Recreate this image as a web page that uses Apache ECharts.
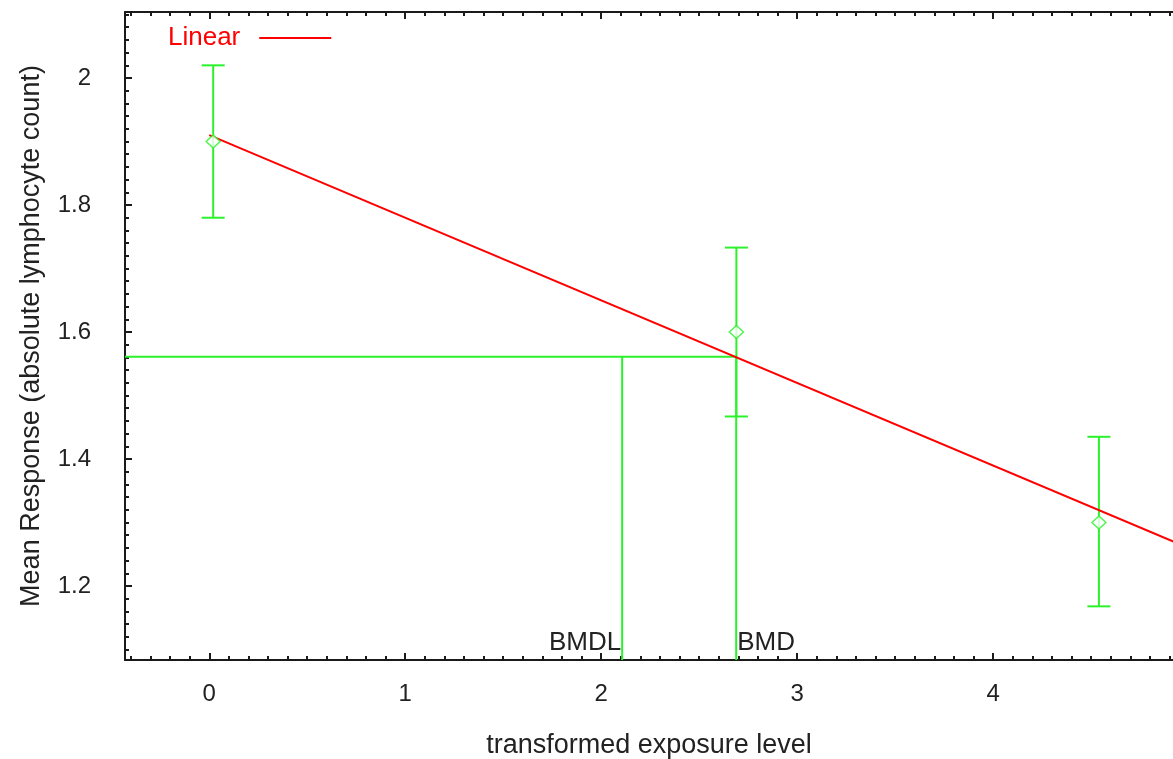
<!DOCTYPE html>
<html><head><meta charset="utf-8">
<script src="https://cdn.jsdelivr.net/npm/echarts@6/dist/echarts.min.js"></script>
<style>html,body{margin:0;padding:0;background:#fff}#c{width:1173px;height:759px}</style>
</head><body><div id="c"></div>
<script>
// ---- data ----
const doses = [0.02, 2.69, 4.54];
const means = [1.90, 1.60, 1.30];
const upper = [2.02, 1.733, 1.435];
const lower = [1.78, 1.467, 1.168];
const fitX = [0, 4.92];
const fitY = [1.910, 1.270];
const bmr = 1.561;
const bmd = 2.689;
const bmdl = 2.107;
const xTicks = [0, 1, 2, 3, 4];
const yTicks = [1.2, 1.4, 1.6, 1.8, 2.0];
const xMin = -0.43, xMax = 4.918, yMin = 1.0835, yMax = 2.104;

const xMinor = [], yMinor = [];
for (let i = -4; i <= 49; i++) { if (i % 10 !== 0) xMinor.push(i / 10); }
for (let i = 55; i <= 105; i++) { if (i % 10 !== 0) yMinor.push(i / 50); }

const FONT = '"Liberation Sans", Arial, sans-serif';
const GREEN = '#2bf22b';
const AX = '#1a1a1a';

function xAx(pos, ticks, len, showLine, labels, extra) {
  return Object.assign({
    type: 'value', position: pos, min: xMin, max: xMax, gridIndex: 0,
    axisLine: { show: showLine, onZero: false, lineStyle: { color: AX, width: 2 } },
    axisTick: { show: true, inside: true, customValues: ticks, length: len, lineStyle: { color: AX, width: 2 } },
    axisLabel: labels ? { show: true, customValues: xTicks, color: '#222', fontSize: 24, fontFamily: FONT, margin: 22 } : { show: false },
    splitLine: { show: false }, minorTick: { show: false }
  }, extra || {});
}
function yAx(pos, ticks, len, showLine, labels, extra) {
  return Object.assign({
    type: 'value', position: pos, min: yMin, max: yMax, gridIndex: 0,
    axisLine: { show: showLine, onZero: false, lineStyle: { color: AX, width: 2 } },
    axisTick: { show: true, inside: true, customValues: ticks, length: len, lineStyle: { color: AX, width: 2 } },
    axisLabel: labels ? { show: true, customValues: yTicks, color: '#222', fontSize: 24, fontFamily: FONT, margin: 34, formatter: v => String(+v.toFixed(2)) } : { show: false },
    splitLine: { show: false }, minorTick: { show: false }
  }, extra || {});
}

const chart = echarts.init(document.getElementById('c'));
chart.setOption({
  animation: false,
  backgroundColor: '#fff',
  grid: { left: 125, right: 0, top: 12, bottom: 99, containLabel: false, outerBoundsMode: 'none' },
  legend: {
    data: [{ name: 'Linear', icon: 'rect', itemStyle: { color: 'red' } }],
    left: 163, top: 20, align: 'right',
    itemWidth: 72, itemHeight: 2,
    textStyle: { color: 'red', fontSize: 26, fontFamily: FONT, padding: [0, 14, 0, 0] }
  },
  xAxis: [
    xAx('bottom', xTicks, 7, true, true, {
      name: 'transformed exposure level', nameLocation: 'middle', nameGap: 72,
      nameTextStyle: { color: '#222', fontSize: 27, fontFamily: FONT }
    }),
    xAx('bottom', xMinor, 4, false, false),
    xAx('top', xTicks, 7, true, false),
    xAx('top', xMinor, 4, false, false)
  ],
  yAxis: [
    yAx('left', yTicks, 7, true, true, {
      name: 'Mean Response (absolute lymphocyte count)', nameLocation: 'middle', nameGap: 80,
      nameTextStyle: { color: '#222', fontSize: 27, fontFamily: FONT }
    }),
    yAx('left', yMinor, 4, false, false)
  ],
  series: [
    {
      name: 'Linear', type: 'line', xAxisIndex: 0, yAxisIndex: 0,
      data: fitX.map((x, i) => [x, fitY[i]]), symbol: 'none',
      lineStyle: { color: 'red', width: 2 }, itemStyle: { color: 'red' }, z: 3
    },
    {
      name: 'bmrLine', type: 'line', xAxisIndex: 0, yAxisIndex: 0, symbol: 'none',
      data: [[xMin, bmr], [bmd, bmr]], lineStyle: { color: GREEN, width: 2 }, z: 2
    },
    {
      name: 'bmdlLine', type: 'line', xAxisIndex: 0, yAxisIndex: 0, symbol: 'none',
      data: [[bmdl, bmr], [bmdl, yMin]], lineStyle: { color: GREEN, width: 2 }, z: 2
    },
    {
      name: 'bmdLine', type: 'line', xAxisIndex: 0, yAxisIndex: 0, symbol: 'none',
      data: [[bmd, bmr], [bmd, yMin]], lineStyle: { color: GREEN, width: 2 }, z: 2
    },
    {
      name: 'errors', type: 'custom', xAxisIndex: 0, yAxisIndex: 0, z: 2,
      data: doses.map((d, i) => [d, lower[i], upper[i]]),
      renderItem: function (params, api) {
        const lo = api.coord([api.value(0), api.value(1)]);
        const hi = api.coord([api.value(0), api.value(2)]);
        const hw = 11.5;
        const st = { stroke: GREEN, lineWidth: 2 };
        return { type: 'group', children: [
          { type: 'line', shape: { x1: lo[0], y1: lo[1], x2: hi[0], y2: hi[1] }, style: st },
          { type: 'line', shape: { x1: lo[0] - hw, y1: lo[1], x2: lo[0] + hw, y2: lo[1] }, style: st },
          { type: 'line', shape: { x1: hi[0] - hw, y1: hi[1], x2: hi[0] + hw, y2: hi[1] }, style: st }
        ] };
      }
    },
    {
      name: 'means', type: 'scatter', xAxisIndex: 0, yAxisIndex: 0, z: 4,
      data: doses.map((d, i) => [d, means[i]]),
      symbol: 'diamond', symbolSize: [14, 13],
      itemStyle: { color: '#fff', borderColor: GREEN, borderWidth: 1.5 }
    },
    {
      name: 'bmdLabels', type: 'custom', xAxisIndex: 0, yAxisIndex: 0, z: 5,
      data: [[bmdl, yMin, 0], [bmd, yMin, 1]],
      renderItem: function (params, api) {
        const p = api.coord([api.value(0), api.value(1)]);
        const right = api.value(2) === 0;
        return { type: 'text', style: {
          text: right ? 'BMDL' : 'BMD', x: right ? p[0] - 1 : p[0] + 1, y: p[1] - 4,
          align: right ? 'right' : 'left', verticalAlign: 'bottom',
          fill: '#222', font: '26px ' + FONT
        } };
      }
    }
  ]
});
</script>
</body></html>
